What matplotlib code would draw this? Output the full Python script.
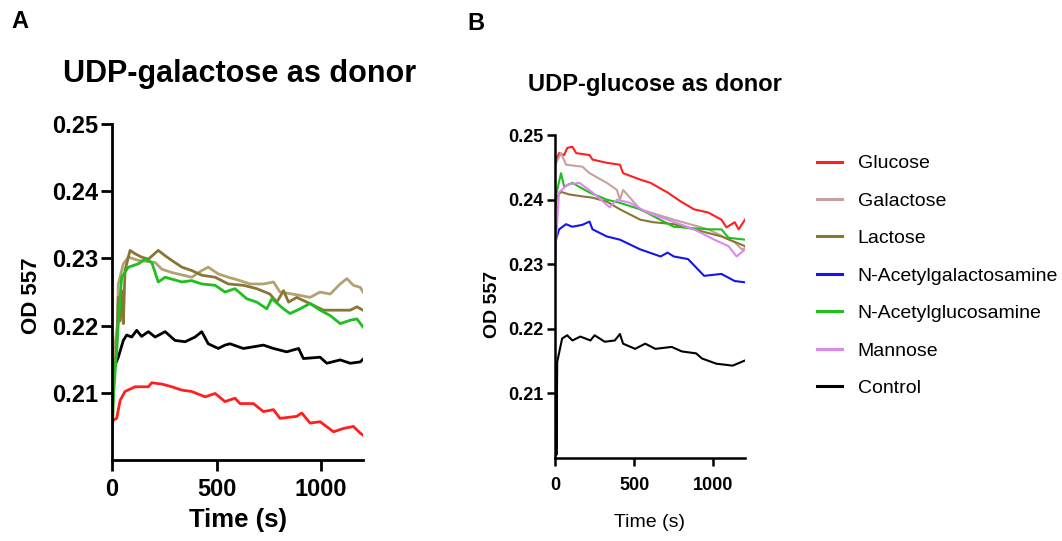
import matplotlib
matplotlib.use("Agg")
import matplotlib.pyplot as plt

plt.rcParams['font.family'] = ['Liberation Sans', 'DejaVu Sans']

# ---- panel A : UDP-galactose as donor ----
a_glucose_t = [0, 22, 39, 62, 110, 174, 190, 238, 286, 334, 381, 445, 493, 540, 588, 612, 676,
               724, 772, 803, 883, 907, 947, 995, 1059, 1107, 1154, 1187, 1200]
a_glucose_v = [0.2058, 0.2062, 0.2089, 0.2102, 0.2109, 0.2109, 0.2115, 0.2113, 0.2109, 0.2104,
               0.2102, 0.2094, 0.2099, 0.2087, 0.2092, 0.2084, 0.2084, 0.2072, 0.2075, 0.2062,
               0.2065, 0.2070, 0.2055, 0.2057, 0.2042, 0.2047, 0.2050, 0.2040, 0.2037]

a_control_t = [0, 30, 54, 70, 94, 118, 141, 174, 206, 254, 301, 349, 397, 429, 460, 508, 540,
               564, 628, 724, 772, 835, 892, 915, 995, 1027, 1091, 1139, 1187, 1200]
a_control_v = [0.2130, 0.2153, 0.2178, 0.2186, 0.2183, 0.2193, 0.2184, 0.2191, 0.2183, 0.2191,
               0.2178, 0.2176, 0.2183, 0.2191, 0.2173, 0.2166, 0.2171, 0.2173, 0.2166, 0.2171,
               0.2166, 0.2161, 0.2166, 0.2151, 0.2153, 0.2144, 0.2149, 0.2144, 0.2146, 0.2150]

a_glcnac_t = [0, 8, 30, 46, 78, 126, 158, 190, 221, 254, 334, 381, 429, 493, 540, 588, 644, 692,
              740, 764, 820, 851, 899, 947, 995, 1043, 1091, 1139, 1171, 1200]
a_glcnac_v = [0.2033, 0.2100, 0.2203, 0.2272, 0.2287, 0.2292, 0.2299, 0.2294, 0.2265, 0.2272,
              0.2265, 0.2267, 0.2262, 0.2260, 0.2250, 0.2255, 0.2240, 0.2235, 0.2225, 0.2240,
              0.2225, 0.2218, 0.2225, 0.2233, 0.2223, 0.2215, 0.2203, 0.2208, 0.2210, 0.2198]

a_lactose_t = [0, 22, 30, 38, 46, 54, 62, 86, 110, 141, 174, 221, 254, 286, 334, 381, 429, 493,
               556, 628, 692, 755, 788, 820, 844, 883, 931, 1011, 1076, 1139, 1171, 1200]
a_lactose_v = [0.2125, 0.2158, 0.2242, 0.2207, 0.2252, 0.2203, 0.2282, 0.2312, 0.2307, 0.2302,
               0.2299, 0.2312, 0.2304, 0.2297, 0.2287, 0.2282, 0.2275, 0.2272, 0.2262, 0.2260,
               0.2255, 0.2247, 0.2235, 0.2252, 0.2235, 0.2242, 0.2235, 0.2223, 0.2223, 0.2223,
               0.2228, 0.2223]

a_tan_t = [0, 25, 30, 54, 78, 126, 206, 238, 286, 381, 429, 460, 508, 556, 612, 660, 724, 772,
           803, 899, 947, 995, 1043, 1091, 1123, 1154, 1187, 1200]
a_tan_v = [0.2135, 0.2200, 0.2262, 0.2292, 0.2302, 0.2297, 0.2294, 0.2284, 0.2279, 0.2272,
           0.2282, 0.2287, 0.2277, 0.2272, 0.2267, 0.2262, 0.2262, 0.2265, 0.2250, 0.2245,
           0.2242, 0.2250, 0.2247, 0.2262, 0.2270, 0.2260, 0.2257, 0.2250]

# ---- panel B : UDP-glucose as donor ----
b_glucose_t = [0, 26, 58, 77, 109, 134, 218, 237, 327, 410, 430, 538, 603, 711, 795, 878, 968,
               1051, 1083, 1135, 1160, 1200]
b_glucose_v = [0.2457, 0.2472, 0.2469, 0.2480, 0.2482, 0.2472, 0.2469, 0.2462, 0.2457, 0.2454,
               0.2441, 0.2431, 0.2426, 0.2411, 0.2397, 0.2385, 0.2380, 0.2369, 0.2357, 0.2365,
               0.2354, 0.2369]

b_galactose_t = [0, 38, 70, 173, 218, 327, 391, 410, 430, 538, 750, 968, 1135, 1180, 1200]
b_galactose_v = [0.2453, 0.2472, 0.2454, 0.2451, 0.2441, 0.2426, 0.2415, 0.2400, 0.2415,
                 0.2385, 0.2369, 0.2354, 0.2334, 0.2323, 0.2325]

b_lactose_t = [0, 13, 38, 90, 173, 237, 327, 410, 538, 622, 750, 878, 1051, 1200]
b_lactose_v = [0.2382, 0.2405, 0.2412, 0.2408, 0.2405, 0.2403, 0.2397, 0.2385, 0.2369, 0.2365,
               0.2362, 0.2354, 0.2343, 0.2328]

b_galnac_t = [0, 6, 26, 70, 109, 173, 218, 237, 327, 410, 538, 667, 711, 750, 840, 942, 1051,
              1135, 1200]
b_galnac_v = [0.2303, 0.2338, 0.2354, 0.2362, 0.2358, 0.2361, 0.2366, 0.2354, 0.2343, 0.2338,
              0.2323, 0.2312, 0.2318, 0.2312, 0.2308, 0.2282, 0.2285, 0.2274, 0.2272]

b_glcnac_t = [0, 38, 58, 109, 218, 327, 410, 538, 750, 968, 1051, 1096, 1200]
b_glcnac_v = [0.2400, 0.2441, 0.2420, 0.2426, 0.2411, 0.2400, 0.2395, 0.2385, 0.2358, 0.2354,
              0.2354, 0.2341, 0.2338]

b_mannose_t = [0, 25, 77, 154, 237, 346, 391, 474, 583, 711, 878, 1006, 1096, 1147, 1200]
b_mannose_v = [0.2308, 0.2411, 0.2423, 0.2426, 0.2411, 0.2388, 0.2400, 0.2395, 0.2380, 0.2369,
               0.2354, 0.2338, 0.2328, 0.2312, 0.2323]

b_control_t = [0, 5, 9, 14, 45, 77, 110, 160, 224, 250, 314, 378, 410, 430, 506, 570, 634, 737,
               801, 891, 929, 1019, 1122, 1200]
b_control_v = [0.2000, 0.2149, 0.2005, 0.2149, 0.2185, 0.2190, 0.2182, 0.2188, 0.2182, 0.2190,
               0.2180, 0.2182, 0.2192, 0.2177, 0.2169, 0.2177, 0.2169, 0.2172, 0.2165, 0.2162,
               0.2154, 0.2146, 0.2143, 0.2151]

yticks = [0.21, 0.22, 0.23, 0.24, 0.25]
ytick_labels = ['0.21', '0.22', '0.23', '0.24', '0.25']
xticks = [0, 500, 1000]
xtick_labels = ['0', '500', '1000']

legend_names = ['Glucose', 'Galactose', 'Lactose', 'N-Acetylgalactosamine',
                'N-Acetylglucosamine', 'Mannose', 'Control']

c_red = '#ff1f1f'
c_rose = '#c9a0a0'
c_olive = '#8a7634'
c_tan = '#b3a271'
c_blue = '#1414f0'
c_green = '#1fbf1f'
c_violet = '#dc88ee'


def style_axes(ax, tick_len, spine_w, tsize, xpad):
    for s in ['top', 'right']:
        ax.spines[s].set_visible(False)
    for s in ['left', 'bottom']:
        ax.spines[s].set_linewidth(spine_w)
    ax.set_xlim(0, 1200)
    ax.set_ylim(0.20, 0.25)
    ax.set_xticks(xticks)
    ax.set_xticklabels(xtick_labels)
    ax.set_yticks(yticks)
    ax.set_yticklabels(ytick_labels)
    ax.tick_params(direction='out', length=tick_len, width=spine_w, labelsize=tsize, pad=2)
    ax.tick_params(axis='x', pad=xpad)
    for lab in ax.get_xticklabels() + ax.get_yticklabels():
        lab.set_fontweight('bold')


fig = plt.figure(figsize=(10.62, 5.41), dpi=100)

# panel A
ax1 = fig.add_axes([0.1055, 0.1497, 0.2363, 0.621])
lw = 2.0
ax1.plot(a_glucose_t, a_glucose_v, color=c_red, lw=lw)
ax1.plot(a_control_t, a_control_v, color='black', lw=lw)
ax1.plot(a_tan_t, a_tan_v, color=c_tan, lw=lw)
ax1.plot(a_lactose_t, a_lactose_v, color=c_olive, lw=lw)
ax1.plot(a_glcnac_t, a_glcnac_v, color=c_green, lw=lw)
style_axes(ax1, 8, 2.0, 17, 5)
ax1.set_xlabel('Time (s)', fontsize=18.5, fontweight='bold')
ax1.xaxis.set_label_coords(0.5, -0.142)
ax1.set_ylabel('OD 557', fontsize=16, fontweight='bold')
ax1.yaxis.set_label_coords(-0.279, 0.49)

fig.text(0.226, 1 - 74 / 541, 'UDP-galactose as donor', fontsize=22, fontweight='bold',
         ha='center', va='center')
fig.text(0.019, 1 - 22 / 541, 'A', fontsize=17, fontweight='bold', ha='center', va='center')

# panel B
ax2 = fig.add_axes([0.5226, 0.1534, 0.1789, 0.597])
lw = 1.5
l1, = ax2.plot(b_glucose_t, b_glucose_v, color=c_red, lw=lw)
l2, = ax2.plot(b_galactose_t, b_galactose_v, color=c_rose, lw=lw)
l3, = ax2.plot(b_lactose_t, b_lactose_v, color=c_olive, lw=lw)
l4, = ax2.plot(b_galnac_t, b_galnac_v, color=c_blue, lw=lw)
l5, = ax2.plot(b_glcnac_t, b_glcnac_v, color=c_green, lw=lw)
l6, = ax2.plot(b_mannose_t, b_mannose_v, color=c_violet, lw=lw)
l7, = ax2.plot(b_control_t, b_control_v, color='black', lw=lw)
style_axes(ax2, 6, 1.8, 13, 8)
ax2.set_xlabel('Time (s)', fontsize=14)
ax2.xaxis.set_label_coords(0.5, -0.172)
ax2.set_ylabel('OD 557', fontsize=14, fontweight='bold')
ax2.yaxis.set_label_coords(-0.285, 0.475)

fig.text(0.617, 1 - 85 / 541, 'UDP-glucose as donor', fontsize=17, fontweight='bold',
         ha='center', va='center')
fig.text(0.448, 1 - 23 / 541, 'B', fontsize=17, fontweight='bold', ha='center', va='center')

fig.legend([l1, l2, l3, l4, l5, l6, l7], legend_names, loc='upper left',
           bbox_to_anchor=(0.769, 0.714), frameon=False, fontsize=14,
           handlelength=1.3, handletextpad=0.8, labelspacing=1.02,
           borderpad=0, borderaxespad=0)
for h in fig.legends[0].get_lines():
    h.set_linewidth(2.2)

fig.savefig('out.png', dpi=100)
